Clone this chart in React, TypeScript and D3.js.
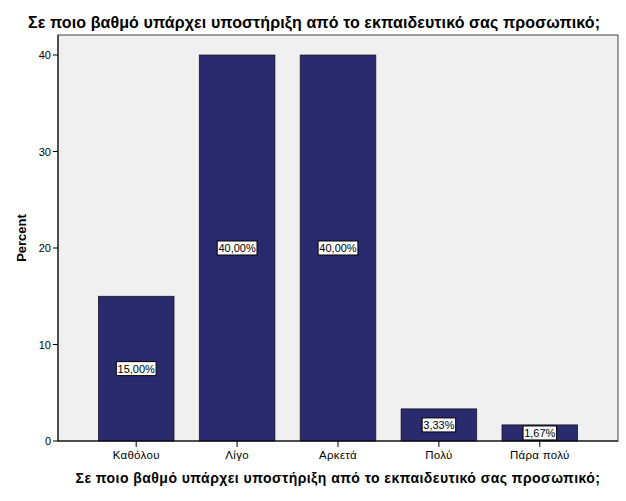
import React from "react";
import * as d3 from "d3";

const categories = ["Καθόλου", "Λίγο", "Αρκετά", "Πολύ", "Πάρα πολύ"];
const percents = [15.0, 40.0, 40.0, 3.33, 1.67];
const labels = ["15,00%", "40,00%", "40,00%", "3,33%", "1,67%"];
const yTicks = [0, 10, 20, 30, 40];
const titleText = "Σε ποιο βαθμό υπάρχει υποστήριξη από το εκπαιδευτικό σας προσωπικό;";
const yTitle = "Percent";

const W = 626, H = 501;
const L = 58, R = 618, T = 35, B = 441;
const FONT = "Arial, 'Liberation Sans', sans-serif";

export default function App() {
  const x = d3.scaleBand<string>().domain(categories).range([L, R]).paddingInner(0.25).paddingOuter(0.4);
  const y = d3.scaleLinear().domain([0, 40]).range([B, 55]);
  return (
    <svg width={W} height={H} style={{ position: "absolute", left: 0, top: 0, background: "#fff" }} fontFamily={FONT}>
      <rect x={0} y={0} width={W} height={H} fill="#fff" />
      <text x={28} y={28} fontSize={16} letterSpacing={0.1} fontWeight="bold" fill="#000">{titleText}</text>
      <rect x={L} y={T} width={R - L} height={B - T} fill="#f0f0f0" stroke="#444" strokeWidth={1} />
      {categories.map((c, i) => {
        const x0 = x(c)!;
        const bw = x.bandwidth();
        const yv = y(percents[i]);
        const cx = x0 + bw / 2;
        const cy = (yv + B) / 2;
        const lw = labels[i].length * 6.3 + 2;
        return (
          <g key={c}>
            <rect x={x0} y={yv} width={bw} height={B - yv} fill="#2a2b6f" stroke="#111" strokeWidth={0.7} />
            <rect x={cx - lw / 2} y={cy - 7} width={lw} height={14} fill="#fff" stroke="#000" strokeWidth={1} />
            <text x={cx} y={cy + 4} textAnchor="middle" fontSize={11} fill="#000">{labels[i]}</text>
            <line x1={cx} x2={cx} y1={B} y2={B + 6} stroke="#000" />
            <text x={cx} y={B + 18} textAnchor="middle" fontSize={11.5} letterSpacing={0.3} fill="#000">{c}</text>
          </g>
        );
      })}
      <line x1={L} x2={L} y1={T} y2={B} stroke="#000" />
      <line x1={L} x2={R} y1={B} y2={B} stroke="#000" />
      {yTicks.map((t) => (
        <g key={t}>
          <line x1={L - 5} x2={L} y1={y(t)} y2={y(t)} stroke="#000" />
          <text x={L - 7} y={y(t) + 4} textAnchor="end" fontSize={11} fill="#000">{t}</text>
        </g>
      ))}
      <text transform={`translate(26,${(T + B) / 2}) rotate(-90)`} textAnchor="middle" fontSize={13} fontWeight="bold" fill="#000">{yTitle}</text>
      <text x={(L + R) / 2} y={483} textAnchor="middle" fontSize={14} letterSpacing={0.45} fontWeight="bold" fill="#000">{titleText}</text>
    </svg>
  );
}
